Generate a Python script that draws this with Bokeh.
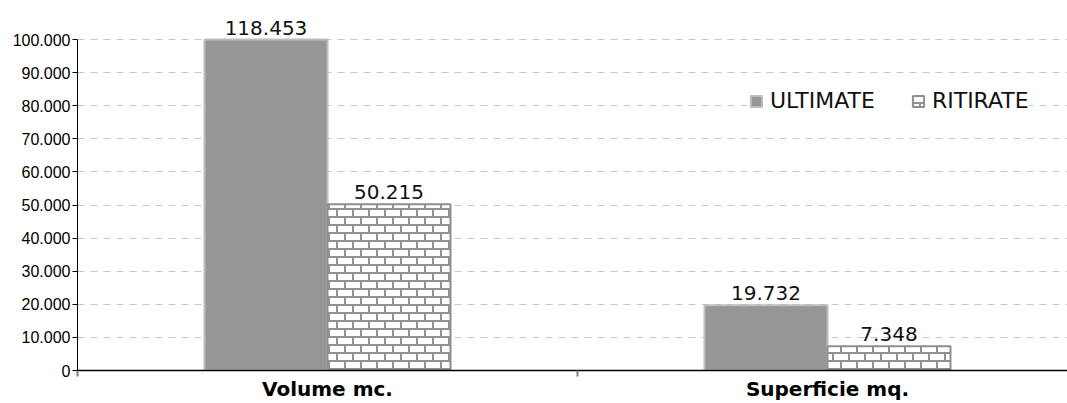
import zlib, struct, base64
import numpy as np
from bokeh.plotting import figure
from bokeh.models import (ColumnDataSource, Range1d, FixedTicker, LabelSet,
                          Legend, LegendItem, ImageURLTexture)
from bokeh.transform import dodge
from bokeh.core.properties import value
from bokeh.embed import file_html
from bokeh.resources import INLINE

# ---- data ----
categories = ["Volume mc.", "Superficie mq."]
series = ["ULTIMATE", "RITIRATE"]
ultimate = [118453, 19732]
ritirate = [50215, 7348]
y_ticks = [0, 10000, 20000, 30000, 40000, 50000, 60000, 70000, 80000, 90000, 100000]


def fmt(v):
    return f"{v:,}".replace(",", ".")


def brick_png():
    w, h = 16, 16
    mortar = bytes((145, 145, 145))
    white = bytes((255, 255, 255))
    raw = b""
    for y in range(h):
        row = b"\x00"
        for x in range(w):
            if y % 8 in (0, 1):
                c = mortar
            elif (y < 8 and x in (0, 1)) or (y >= 8 and x in (8, 9)):
                c = mortar
            else:
                c = white
            row += c
        raw += row

    def chunk(t, d):
        return struct.pack(">I", len(d)) + t + d + struct.pack(">I", zlib.crc32(t + d) & 0xffffffff)

    png = (b"\x89PNG\r\n\x1a\n"
           + chunk(b"IHDR", struct.pack(">IIBBBBB", w, h, 8, 2, 0, 0, 0))
           + chunk(b"IDAT", zlib.compress(raw))
           + chunk(b"IEND", b""))
    return "data:image/png;base64," + base64.b64encode(png).decode()


y_max = y_ticks[-1]
x_pos = [i + 0.5 for i in range(len(categories))]

source = ColumnDataSource(dict(
    x=x_pos,
    ult_top=list(np.minimum(ultimate, y_max)),
    rit_top=list(np.minimum(ritirate, y_max)),
    ult_lbl=[fmt(v) for v in ultimate],
    rit_lbl=[fmt(v) for v in ritirate],
))

p = figure(width=1067, height=403,
           x_range=Range1d(0, 1.98), y_range=Range1d(0, 109400),
           output_backend="svg", toolbar_location=None,
           min_border_left=77, min_border_right=0,
           min_border_top=8, min_border_bottom=33)
p.outline_line_color = None
p.background_fill_color = "white"

bw = 0.246
r1 = p.vbar(x=dodge("x", -bw / 2, range=p.x_range), top="ult_top", width=bw, source=source,
            fill_color="#969696", line_color="#bdbdbd", line_width=2)
r2 = p.vbar(x=dodge("x", bw / 2, range=p.x_range), top="rit_top", width=bw, source=source,
            fill_color="white", line_color="#8f8f8f", line_width=2,
            hatch_pattern=value("brick"),
            hatch_extra={"brick": ImageURLTexture(url=brick_png(), repetition="repeat")})

lbl_font = "DejaVu Sans"
for col_x, col_y, col_t in ((-bw / 2, "ult_top", "ult_lbl"), (bw / 2, "rit_top", "rit_lbl")):
    p.add_layout(LabelSet(x=dodge("x", col_x, range=p.x_range), y=col_y, text=col_t, source=source,
                          text_align="center", text_baseline="bottom", y_offset=5,
                          text_font=value(lbl_font), text_font_size="20px", text_color="#111111"))

# axes
p.xaxis.ticker = FixedTicker(ticks=x_pos, minor_ticks=[0, 1, 2])
p.xaxis.major_label_overrides = {x: c for x, c in zip(x_pos, categories)}
p.xaxis.major_tick_line_color = None
p.xaxis.major_tick_out = 0
p.xaxis.major_tick_in = 0
p.xaxis.minor_tick_out = 6
p.xaxis.minor_tick_in = 0
p.xaxis.minor_tick_line_color = "#808080"
p.xaxis.minor_tick_line_width = 2
p.xaxis.axis_line_color = "black"
p.xaxis.axis_line_width = 1.5
p.xaxis.major_label_text_font = "DejaVu Sans"
p.xaxis.major_label_text_font_style = "bold"
p.xaxis.major_label_text_font_size = "20px"
p.xaxis.major_label_text_color = "black"
p.xaxis.major_label_standoff = 0

p.yaxis.ticker = FixedTicker(ticks=y_ticks)
p.yaxis.bounds = (0, y_max)
p.yaxis.major_label_overrides = {t: fmt(t) for t in y_ticks}
p.yaxis.minor_tick_line_color = None
p.yaxis.major_tick_out = 5
p.yaxis.major_tick_in = 0
p.yaxis.major_tick_line_color = "black"
p.yaxis.axis_line_color = "black"
p.yaxis.major_label_text_font = "Liberation Sans"
p.yaxis.major_label_text_font_size = "16px"
p.yaxis.major_label_text_color = "black"
p.yaxis.major_label_standoff = 2

p.xgrid.visible = False
p.ygrid.grid_line_color = "#c8c8c8"
p.ygrid.grid_line_dash = "7 6"
p.ygrid.grid_line_width = 1

legend = Legend(items=[LegendItem(label=series[0], renderers=[r1]),
                       LegendItem(label=series[1], renderers=[r2])],
                orientation="horizontal", location=(672, 257),
                label_text_font=lbl_font, label_text_font_size="22px",
                label_text_color="#111111",
                glyph_width=14, glyph_height=14, label_standoff=7, spacing=36,
                padding=8, margin=0, border_line_color=None,
                background_fill_color="white", background_fill_alpha=1)
p.add_layout(legend, "center")

open("out.html", "w").write(file_html(p, INLINE))
